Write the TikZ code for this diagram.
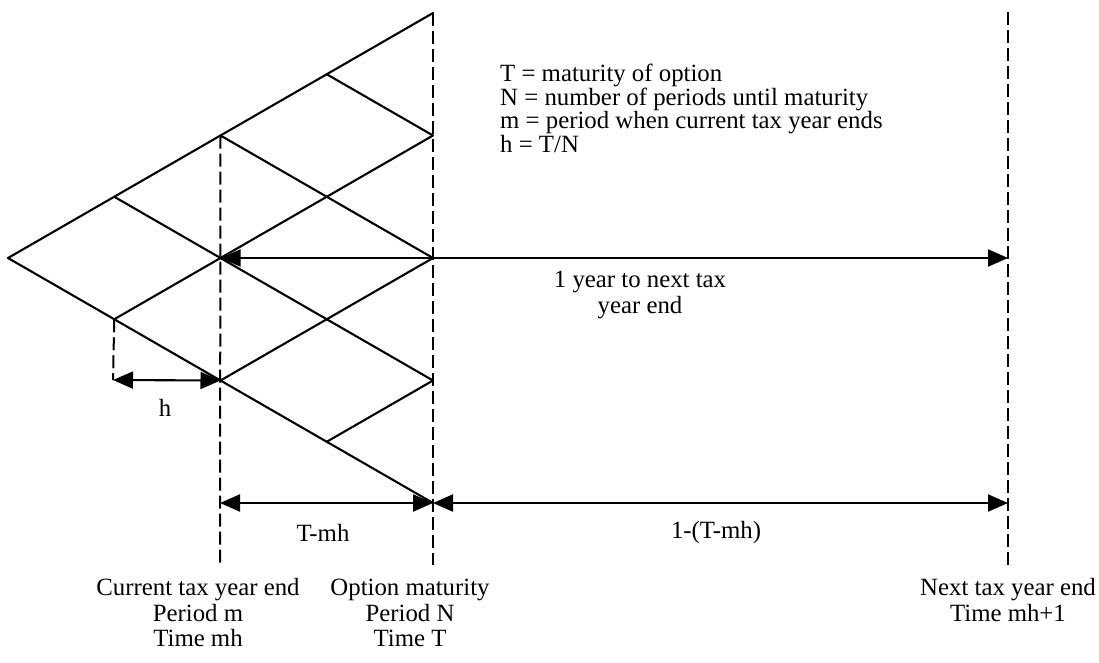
\documentclass[tikz,border=0pt]{standalone}
\usepackage{fontspec}
\setmainfont{Liberation Serif}
\usetikzlibrary{arrows.meta}
\begin{document}
\begin{tikzpicture}[x=1pt,y=-1pt,
  lat/.style={line width=2.1pt, line cap=round, line join=round},
  guide/.style={line width=2pt, dash pattern=on 13pt off 5pt},
  dimboth/.style={line width=2.1pt, {Triangle[length=20pt,width=17pt]}-{Triangle[length=20pt,width=17pt]}},
  dimone/.style={line width=2.1pt, -{Triangle[length=20pt,width=17pt]}},
  lbl/.style={font=\fontsize{24.8}{25.5}\selectfont, inner sep=0pt, align=center},
  legend/.style={font=\fontsize{24.8}{23.7}\selectfont, inner sep=0pt, align=left}
]
\useasboundingbox (0,0) rectangle (1099,662);
% lattice coordinates
\foreach \i in {0,...,4}{
  \foreach \j in {0,...,\i}{
    \coordinate (n\i\j) at ({8+\i*106.25},{258+(2*\j-\i)*61.25});
  }
}
% lattice edges
\foreach \i in {0,...,3}{
  \foreach \j in {0,...,\i}{
    \pgfmathtruncatemacro{\ni}{\i+1}
    \pgfmathtruncatemacro{\nj}{\j+1}
    \draw[lat] (n\i\j) -- (n\ni\j);
    \draw[lat] (n\i\j) -- (n\ni\nj);
  }
}
% guide coordinates
\coordinate (cbot) at (220,565);
\coordinate (obot) at (433,565);
\coordinate (ntop) at (1008,12);
\coordinate (nbot) at (1008,565);
\coordinate (hend) at (113,380);
\coordinate (nmid) at (1008,258);
\coordinate (cdim) at (220,503);
\coordinate (ndim) at (1008,503);
% dashed guides
\draw[guide] (n20) -- (cbot);
\draw[guide] (n40) -- (obot);
\draw[guide] (ntop) -- (nbot);
\draw[guide] (n11) -- (hend);
% dimension arrows
\draw[dimboth] (hend) -- (n22);
\draw[dimone] (n42) -- (n21);
\draw[dimone] (n42) -- (nmid);
\draw[dimboth] (cdim) -- (n44);
\draw[dimboth] (n44) -- (ndim);
% labels
\node[lbl] (lh) at (165,408) {h};
\node[lbl] (ltmh) at (323,533) {T-mh};
\node[lbl] (lrest) at (716,533) {1-(T-mh)};
\node[lbl] (lyear) at (640,295) {1 year to next tax\\year end};
\node[legend, anchor=west] (leg) at (500,108.5) {T = maturity of option\\N = number of periods until maturity\\m = period when current tax year ends\\h = T/N};
\node[lbl] (lcur) at (198,613) {Current tax year end\\Period m\\Time mh};
\node[lbl] (lopt) at (410,613) {Option maturity\\Period N\\Time T};
\node[lbl] (lnext) at (1008,600) {Next tax year end\\Time mh+1};
\end{tikzpicture}
\end{document}
